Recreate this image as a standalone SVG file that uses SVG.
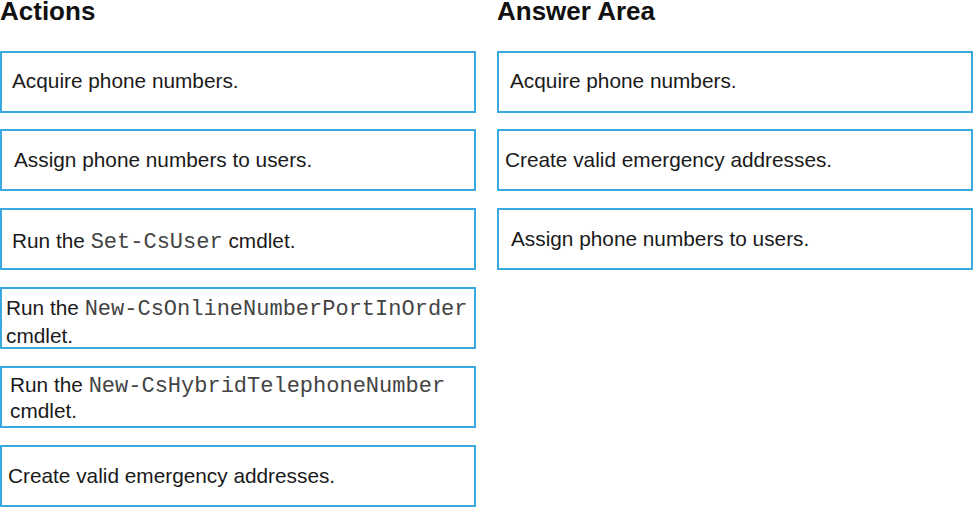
<svg xmlns="http://www.w3.org/2000/svg" width="973" height="507" viewBox="0 0 973 507">
<style>
.box{fill:#fff;stroke:#3aa9e0;stroke-width:2}
.t{font-family:"Liberation Sans",Arial,sans-serif;font-size:20.8px;fill:#1a1a1a}
.m{font-family:"Liberation Mono","Courier New",monospace;font-size:22px;fill:#444}
.h{font-family:"Liberation Sans",Arial,sans-serif;font-size:26px;font-weight:bold;fill:#111}
</style>
<rect width="973" height="507" fill="#fff"/>
<text class="h" x="0" y="20">Actions</text>
<text class="h" x="497" y="20">Answer Area</text>
<g id="a1"><rect class="box" x="1" y="52" width="474" height="60"/><text class="t" x="12" y="88">Acquire phone numbers.</text></g>
<g id="a2"><rect class="box" x="1" y="130" width="474" height="60"/><text class="t" x="14" y="167">Assign phone numbers to users.</text></g>
<g id="a3"><rect class="box" x="1" y="209" width="474" height="60"/><text class="t" x="12" y="248">Run the <tspan class="m">Set-CsUser</tspan> cmdlet.</text></g>
<g id="a4"><rect class="box" x="1" y="288" width="474" height="60"/><text class="t" x="6" y="315">Run the <tspan class="m">New-CsOnlineNumberPortInOrder</tspan></text><text class="t" x="6" y="343">cmdlet.</text></g>
<g id="a5"><rect class="box" x="1" y="367" width="474" height="60"/><text class="t" x="10" y="392">Run the <tspan class="m">New-CsHybridTelephoneNumber</tspan></text><text class="t" x="10" y="418">cmdlet.</text></g>
<g id="a6"><rect class="box" x="1" y="446" width="474" height="60"/><text class="t" x="8" y="483">Create valid emergency addresses.</text></g>
<g id="b1"><rect class="box" x="498" y="52" width="474" height="60"/><text class="t" x="510" y="88">Acquire phone numbers.</text></g>
<g id="b2"><rect class="box" x="498" y="130" width="474" height="60"/><text class="t" x="505" y="167">Create valid emergency addresses.</text></g>
<g id="b3"><rect class="box" x="498" y="209" width="474" height="60"/><text class="t" x="511" y="246">Assign phone numbers to users.</text></g>
<g id="connectors"></g>
</svg>
